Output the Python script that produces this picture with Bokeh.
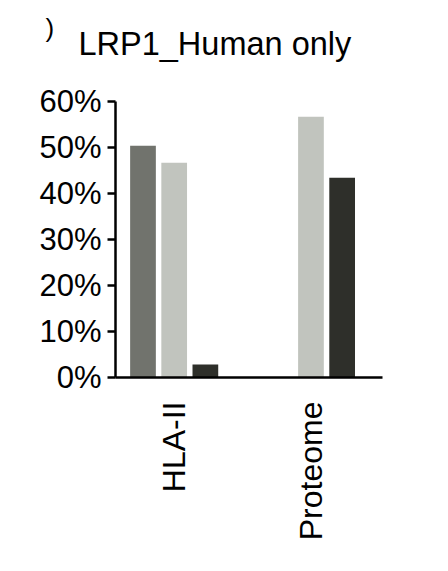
from bokeh.plotting import figure
from bokeh.models import PrintfTickFormatter, FixedTicker, Range1d
from bokeh.layouts import column
from bokeh.core.properties import value
from bokeh.embed import file_html
from bokeh.resources import INLINE

groups = ["HLA-II", "Proteome"]
series_names = ["A", "B", "C"]
series_colors = ["#71736d", "#c1c4be", "#2e2f2a"]
values = {
    "A": [50.4, 0.0],
    "B": [46.7, 56.7],
    "C": [2.8, 43.4],
}
y_ticks = [0, 10, 20, 30, 40, 50, 60]
title_text = "LRP1_Human only"
panel_mark = ")"

FONT = "Liberation Sans"
pitch = 0.228
bar_w = 0.188

# ---- title strip (pixel-like coordinates) ----
TH = 75
t = figure(width=448, height=TH, output_backend="svg", toolbar_location=None,
           x_range=Range1d(0, 448), y_range=Range1d(0, TH),
           x_axis_location=None, y_axis_location=None,
           min_border=0, min_border_left=0, min_border_right=0,
           min_border_top=0, min_border_bottom=0, frame_align=False)
t.outline_line_color = None
t.grid.visible = False
t.text(x=[78], y=[32], text=[title_text], text_font=value(FONT),
       text_font_size="32.5px", text_color="black", text_align="left",
       text_baseline="alphabetic")
t.text(x=[45], y=[48], text=[panel_mark], text_font=value(FONT),
       text_font_size="26px", text_color="black", text_align="left",
       text_baseline="alphabetic")

# ---- main chart ----
p = figure(width=448, height=571 - TH, output_backend="svg", toolbar_location=None,
           x_range=Range1d(-0.429, 1.523), y_range=Range1d(0, 60),
           min_border_left=115, min_border_right=66, min_border_top=101 - TH,
           min_border_bottom=194, frame_align=False)
p.outline_line_color = None
p.grid.visible = False
p.background_fill_color = "white"
p.border_fill_color = "white"

for k, s in enumerate(series_names):
    xs = [g + (k - 1) * pitch for g in range(len(groups))]
    tops = values[s]
    xs2 = [x for x, tp in zip(xs, tops) if tp > 0]
    tops2 = [tp for tp in tops if tp > 0]
    p.vbar(x=xs2, top=tops2, width=bar_w, bottom=0, fill_color=series_colors[k],
           line_color=None)

# y axis
p.yaxis.ticker = FixedTicker(ticks=y_ticks)
p.yaxis.formatter = PrintfTickFormatter(format="%d%%")
p.yaxis.axis_line_width = 2.5
p.yaxis.axis_line_color = "black"
p.yaxis.major_tick_line_width = 2.5
p.yaxis.major_tick_out = 8
p.yaxis.major_tick_in = 0
p.yaxis.minor_tick_line_color = None
p.yaxis.major_label_text_font = FONT
p.yaxis.major_label_text_font_size = "31px"
p.yaxis.major_label_text_color = "black"
p.yaxis.major_label_standoff = 6

# x axis
p.xaxis.ticker = FixedTicker(ticks=list(range(len(groups))))
p.xaxis.major_label_overrides = {i: g for i, g in enumerate(groups)}
p.xaxis.axis_line_width = 2.5
p.xaxis.axis_line_color = "black"
p.xaxis.major_tick_line_color = None
p.xaxis.major_tick_out = 0
p.xaxis.major_tick_in = 0
p.xaxis.minor_tick_line_color = None
p.xaxis.major_label_orientation = 3.14159265 / 2
p.xaxis.major_label_text_font = FONT
p.xaxis.major_label_text_font_size = "32px"
p.xaxis.major_label_text_color = "black"
p.xaxis.major_label_standoff = 24

layout = column(t, p, spacing=0)
open("out.html", "w").write(file_html(layout, INLINE))
